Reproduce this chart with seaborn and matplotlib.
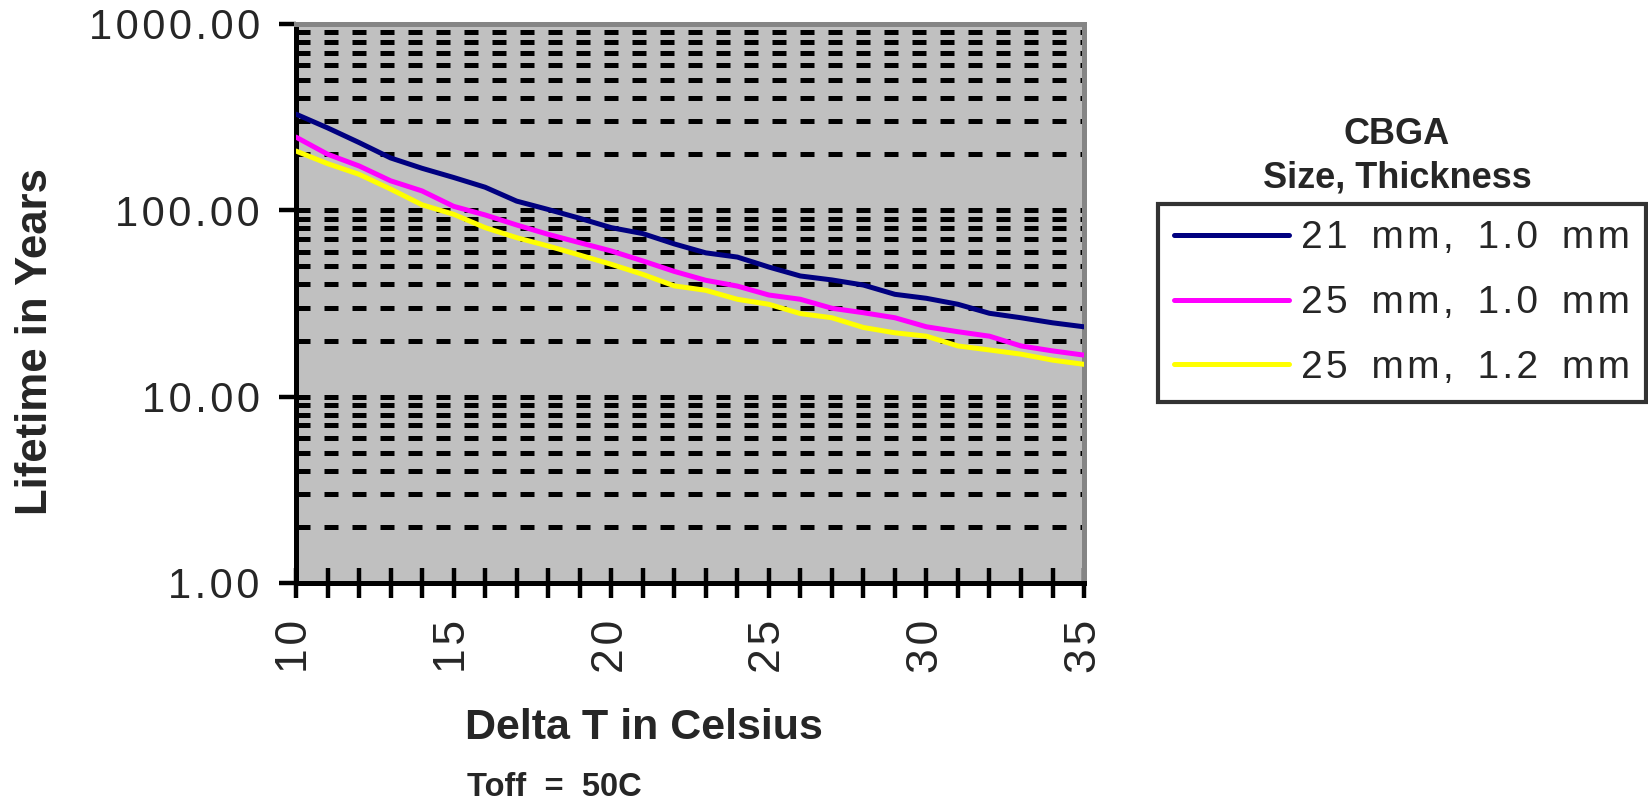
import numpy as np
import pandas as pd
import matplotlib
matplotlib.use("Agg")
import matplotlib.pyplot as plt
from matplotlib.ticker import FixedLocator, FuncFormatter, NullFormatter
import seaborn as sns

# ---- data ----
delta_t = list(range(10, 36))
series_names = ["21 mm, 1.0 mm", "25 mm, 1.0 mm", "25 mm, 1.2 mm"]
life_21_10 = [328, 277, 231, 191, 168, 150, 133, 112, 101, 90.6,
              80.7, 75, 66, 59.1, 56.1, 49.6, 44.4, 42.3, 39.7, 35.4,
              33.7, 31.3, 28, 26.5, 24.9, 23.7]
life_25_10 = [247, 200, 173, 144, 127, 105, 94.4, 83.4, 74.3, 67,
              60.5, 53.5, 47, 42.1, 39.2, 35.1, 33.3, 29.8, 28.2, 26.5,
              23.7, 22.3, 21.1, 18.7, 17.6, 16.7]
life_25_12 = [208, 178, 156, 130, 107, 95.2, 80.7, 71.3, 64.3, 57.5,
              51.3, 45.3, 39.3, 37.2, 33.3, 31.3, 27.9, 26.5, 23.5, 22.0,
              21.1, 18.7, 17.8, 16.9, 15.7, 14.9]
colors = ["#000080", "#FF00FF", "#FFFF00"]
y_major = [1, 10, 100, 1000]
x_labels = [10, 15, 20, 25, 30, 35]

df = pd.concat([
    pd.DataFrame({"Delta T": delta_t, "Lifetime": vals, "Series": name})
    for name, vals in zip(series_names, [life_21_10, life_25_10, life_25_12])
])

sns.set_style("white")
plt.rcParams["font.family"] = ["Liberation Sans", "DejaVu Sans"]

HS = "\u200a"
def spaced(s):
    return HS.join(s)

fig = plt.figure(figsize=(16.48, 8.09), dpi=100)
ax = fig.add_axes([0.1796, 0.2794, 0.4782, 0.691])
ax.set_facecolor("#C0C0C0")

sns.lineplot(data=df, x="Delta T", y="Lifetime", hue="Series",
             palette=dict(zip(series_names, colors)), linewidth=3.6,
             ax=ax, legend=False, zorder=3)

ax.set_yscale("log")
ax.set_ylim(1, 1000)
ax.set_xlim(10, 35)

# y ticks
ax.yaxis.set_major_locator(FixedLocator(y_major))
ax.yaxis.set_major_formatter(FuncFormatter(lambda v, p: spaced(f"{v:.2f}")))
minor = [m * 10 ** k for k in range(0, 3) for m in range(2, 10)]
ax.yaxis.set_minor_locator(FixedLocator(minor))
ax.yaxis.set_minor_formatter(NullFormatter())
ax.tick_params(axis="y", which="major", direction="out", length=12, width=3.2,
               color="black", labelsize=30, pad=14, left=True)
ax.tick_params(axis="y", which="minor", length=0, left=False)

# gridlines at all y ticks
ax.grid(False)
ax.set_axisbelow(True)
for v in minor + y_major:
    ax.axhline(v, color="black", linewidth=3.6, linestyle=(0, (2.8, 2.8)), zorder=1)

# x ticks
ax.set_xticks(delta_t)
ax.set_xticklabels([spaced(str(t)) if t in x_labels else "" for t in delta_t],
                   rotation=90)
ax.tick_params(axis="x", which="major", direction="inout", length=21.6, width=3.2,
               color="black", labelsize=32, pad=16, bottom=True)

for s in ["left", "bottom"]:
    ax.spines[s].set_color("black")
    ax.spines[s].set_linewidth(3.6)
for s in ["top", "right"]:
    ax.spines[s].set_color("#858585")
    ax.spines[s].set_linewidth(3.6)

ax.set_xlabel("Delta T in Celsius", fontsize=31, fontweight="bold", va="center")
ax.xaxis.set_label_coords(0.4416, -0.2594)
ax.set_ylabel("Lifetime in Years", fontsize=31.5, fontweight="bold", va="center")
ax.yaxis.set_label_coords(-0.331, 0.431)

fig.text(554 / 1648, 1 - 788 / 809, "Toff  =  50C", fontsize=23.5, fontweight="bold",
         ha="center", va="center")

# legend
handles = ax.get_lines()[:3]
leg = fig.legend(handles, [spaced(n).replace(" ", HS + " " + HS) for n in series_names],
                 loc="upper left", bbox_to_anchor=(1158 / 1648, 1 - 204 / 809),
                 fontsize=28, frameon=True, fancybox=False, shadow=False,
                 handlelength=2.95, handletextpad=0.3, labelspacing=0.74,
                 borderpad=0.42, borderaxespad=0)
leg.get_frame().set_edgecolor("black")
leg.get_frame().set_linewidth(3.0)
leg.get_frame().set_facecolor("white")
for ln in leg.get_lines():
    ln.set_linewidth(3.6)

fig.text(1397 / 1648, 1 - 135 / 809, "CBGA", fontsize=26, fontweight="bold",
         ha="center", va="center")
fig.text(1397 / 1648, 1 - 178 / 809, "Size, Thickness", fontsize=26, fontweight="bold",
         ha="center", va="center")

fig.savefig("out.png", dpi=100, facecolor="white")
